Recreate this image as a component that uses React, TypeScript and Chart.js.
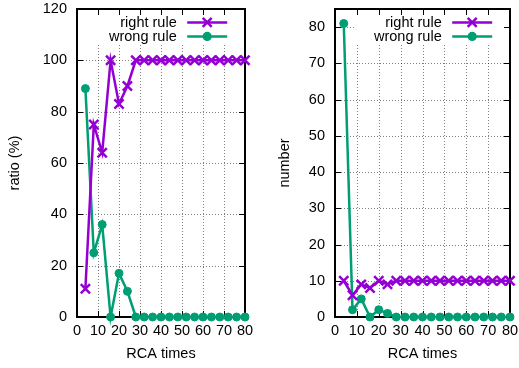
import React, { useEffect, useRef } from 'react';
import { Chart, registerables } from 'chart.js';

Chart.register(...registerables);

const rcaTimes = [4, 8, 12, 16, 20, 24, 28, 32, 36, 40, 44, 48, 52, 56, 60, 64, 68, 72, 76, 80];
const ratioRight = [11, 75, 64, 100, 83, 90, 100, 100, 100, 100, 100, 100, 100, 100, 100, 100, 100, 100, 100, 100];
const ratioWrong = [89, 25, 36, 0, 17, 10, 0, 0, 0, 0, 0, 0, 0, 0, 0, 0, 0, 0, 0, 0];
const numberRight = [10, 6, 9, 8, 10, 9, 10, 10, 10, 10, 10, 10, 10, 10, 10, 10, 10, 10, 10, 10];
const numberWrong = [81, 2, 5, 0, 2, 1, 0, 0, 0, 0, 0, 0, 0, 0, 0, 0, 0, 0, 0, 0];
const seriesLabels = ['right rule', 'wrong rule'];
const xTitle = 'RCA times';

const PURPLE = '#9400d3';
const GREEN = '#009e73';
const FONT = '"Liberation Sans", Arial, sans-serif';
const FS = 14.5;

function drawCross(ctx: CanvasRenderingContext2D, x: number, y: number, h: number) {
  ctx.beginPath();
  ctx.moveTo(x - h, y - h);
  ctx.lineTo(x + h, y + h);
  ctx.moveTo(x - h, y + h);
  ctx.lineTo(x + h, y - h);
  ctx.stroke();
}

const gnuplotPlugin = {
  id: 'gnuplotFrame',
  beforeDatasetsDraw(chart: any) {
    const { ctx, chartArea: a } = chart;
    const xs = chart.scales.x;
    const ys = chart.scales.y;
    ctx.save();
    // grid
    ctx.strokeStyle = 'rgba(0,0,0,0.5)';
    ctx.lineWidth = 1;
    ctx.setLineDash([1, 2]);
    xs.ticks.forEach((t: any) => {
      if (t.value <= xs.min || t.value >= xs.max) return;
      const px = Math.round(xs.getPixelForValue(t.value)) + 0.5;
      ctx.beginPath();
      ctx.moveTo(px, a.top);
      ctx.lineTo(px, a.bottom);
      ctx.stroke();
    });
    ys.ticks.forEach((t: any) => {
      if (t.value <= ys.min || t.value >= ys.max) return;
      const py = Math.round(ys.getPixelForValue(t.value)) + 0.5;
      ctx.beginPath();
      ctx.moveTo(a.left, py);
      ctx.lineTo(a.right, py);
      ctx.stroke();
    });
    ctx.setLineDash([]);
    // opaque key box
    ctx.fillStyle = '#fff';
    ctx.fillRect(a.right - 156, a.top, 153, 36);
    // frame
    ctx.strokeStyle = '#000';
    ctx.lineWidth = 2;
    ctx.strokeRect(a.left, a.top, a.right - a.left, a.bottom - a.top);
    // inward ticks
    ctx.lineWidth = 1;
    const tl = 6;
    xs.ticks.forEach((t: any) => {
      const px = Math.round(xs.getPixelForValue(t.value)) + 0.5;
      ctx.beginPath();
      ctx.moveTo(px, a.bottom);
      ctx.lineTo(px, a.bottom - tl);
      ctx.moveTo(px, a.top);
      ctx.lineTo(px, a.top + tl);
      ctx.stroke();
    });
    ys.ticks.forEach((t: any) => {
      const py = Math.round(ys.getPixelForValue(t.value)) + 0.5;
      ctx.beginPath();
      ctx.moveTo(a.left, py);
      ctx.lineTo(a.left + tl, py);
      ctx.moveTo(a.right, py);
      ctx.lineTo(a.right - tl, py);
      ctx.stroke();
    });
    ctx.restore();
  },
  afterDatasetsDraw(chart: any) {
    const { ctx, chartArea: a } = chart;
    ctx.save();
    ctx.font = `${FS}px ${FONT}`;
    ctx.fillStyle = '#000';
    ctx.textAlign = 'right';
    ctx.textBaseline = 'middle';
    const rows = [a.top + 13.4, a.top + 27.4];
    const colors = [PURPLE, GREEN];
    rows.forEach((y, i) => {
      ctx.fillStyle = '#000';
      ctx.fillText(seriesLabels[i], a.right - 68.3, y + 0.5);
      ctx.strokeStyle = colors[i];
      ctx.fillStyle = colors[i];
      ctx.lineWidth = 2.5;
      ctx.beginPath();
      ctx.moveTo(a.right - 57.8, y);
      ctx.lineTo(a.right - 17.8, y);
      ctx.stroke();
      const mx = a.right - 37.8;
      if (i === 0) {
        drawCross(ctx, mx, y, 4.5);
      } else {
        ctx.beginPath();
        ctx.arc(mx, y, 4.6, 0, Math.PI * 2);
        ctx.fill();
      }
    });
    ctx.restore();
  },
};

function makeConfig(
  rightVals: number[],
  wrongVals: number[],
  yTitle: string,
  yMax: number,
  yStep: number,
  yWidth: number,
  padRight: number,
  yTitlePad: number
): any {
  return {
    type: 'line',
    data: {
      datasets: [
        {
          label: seriesLabels[0],
          data: rcaTimes.map((x, i) => ({ x, y: rightVals[i] })),
          borderColor: PURPLE,
          backgroundColor: PURPLE,
          borderWidth: 2.5,
          pointStyle: 'crossRot',
          pointRadius: 6.5,
          pointBorderWidth: 2.5,
          pointBorderColor: PURPLE,
          tension: 0,
          clip: false,
        },
        {
          label: seriesLabels[1],
          data: rcaTimes.map((x, i) => ({ x, y: wrongVals[i] })),
          borderColor: GREEN,
          backgroundColor: GREEN,
          borderWidth: 2.5,
          pointStyle: 'circle',
          pointRadius: 4,
          pointBorderWidth: 1,
          pointBackgroundColor: GREEN,
          pointBorderColor: GREEN,
          tension: 0,
          clip: false,
        },
      ],
    },
    options: {
      responsive: false,
      animation: false,
      events: [],
      layout: { padding: { left: 0, top: 7, right: padRight, bottom: 0 } },
      plugins: { legend: { display: false }, tooltip: { enabled: false } },
      scales: {
        x: {
          type: 'linear',
          min: 0,
          max: 80,
          grid: { display: false, drawTicks: false },
          border: { display: false },
          ticks: {
            stepSize: 10,
            color: '#000',
            padding: 5.5,
            maxRotation: 0,
            autoSkip: false,
            font: { family: FONT, size: FS },
          },
          title: {
            display: true,
            text: xTitle,
            color: '#000',
            font: { family: FONT, size: FS },
            padding: { top: 0, bottom: 5.3 },
          },
          afterFit(s: any) {
            s.height = 51;
            s.paddingLeft = 0;
            s.paddingRight = 0;
          },
        },
        y: {
          type: 'linear',
          min: 0,
          max: yMax,
          grid: { display: false, drawTicks: false },
          border: { display: false },
          ticks: {
            stepSize: yStep,
            includeBounds: false,
            color: '#000',
            padding: 10,
            font: { family: FONT, size: FS },
          },
          title: {
            display: true,
            text: yTitle,
            color: '#000',
            font: { family: FONT, size: FS },
            padding: { top: yTitlePad, bottom: 0 },
          },
          afterFit(s: any) {
            s.width = yWidth;
            s.paddingTop = 0;
            s.paddingBottom = 0;
          },
        },
      },
    },
    plugins: [gnuplotPlugin],
  };
}

function Panel(props: { cfg: () => any; width: number; left: number }) {
  const ref = useRef<HTMLCanvasElement>(null);
  useEffect(() => {
    if (!ref.current) return;
    const chart = new Chart(ref.current, props.cfg());
    return () => chart.destroy();
  }, []);
  return (
    <canvas
      ref={ref}
      width={props.width}
      height={368}
      style={{ position: 'absolute', left: props.left, top: 0, width: props.width, height: 368 }}
    />
  );
}

export default function App() {
  return (
    <div style={{ position: 'fixed', left: 0, top: 0, width: 519, height: 368, background: '#fff' }}>
      <Panel
        left={0}
        width={260}
        cfg={() => makeConfig(ratioRight, ratioWrong, 'ratio (%)', 120, 20, 77, 15, 6.3)}
      />
      <Panel
        left={260}
        width={259}
        cfg={() => makeConfig(numberRight, numberWrong, 'number', 85, 10, 75, 7.3, 16.3)}
      />
    </div>
  );
}
